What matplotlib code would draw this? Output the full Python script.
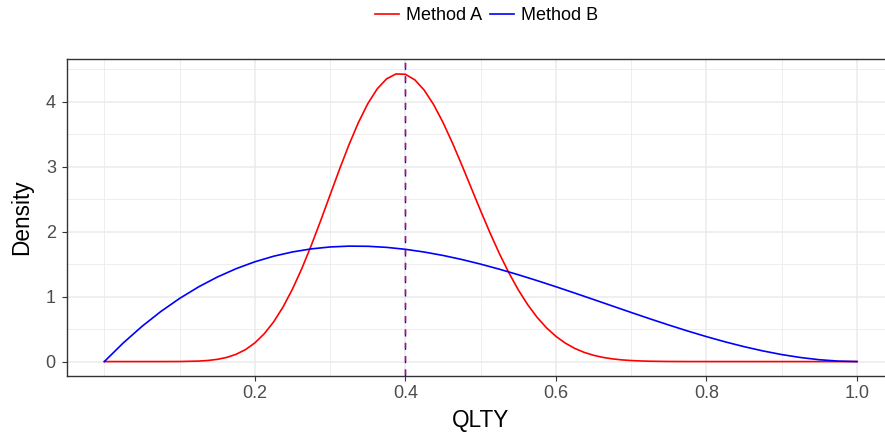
"""Density comparison of two methods for QLTY (ggplot theme_bw look)."""
import matplotlib
matplotlib.use("Agg")
import matplotlib.pyplot as plt

plt.rcParams["font.family"] = ["Liberation Sans", "DejaVu Sans"]

# values
method_a_x = [0.0, 0.025, 0.05, 0.075, 0.1, 0.125, 0.1375, 0.15, 0.1625,
              0.175, 0.1875, 0.2, 0.2125, 0.225, 0.2375, 0.25, 0.2625, 0.275,
              0.2875, 0.3, 0.3125, 0.325, 0.3375, 0.35, 0.3625, 0.375, 0.3875,
              0.4, 0.4125, 0.425, 0.4375, 0.45, 0.4625, 0.475, 0.4875, 0.5,
              0.5125, 0.525, 0.5375, 0.55, 0.5625, 0.575, 0.5875, 0.6, 0.6125,
              0.625, 0.6375, 0.65, 0.6625, 0.675, 0.6875, 0.7, 0.7125, 0.725,
              0.75, 0.775, 0.8, 0.85, 0.9, 0.95, 1.0]
method_a_y = [0.0, 0.0, 0.0, 0.0001, 0.001, 0.0075, 0.0167, 0.034, 0.0637,
              0.1115, 0.1838, 0.2872, 0.4281, 0.6117, 0.8408, 1.1162, 1.4344,
              1.7896, 2.1711, 2.5663, 2.9601, 3.3357, 3.6770, 3.9685, 4.1963,
              4.3514, 4.4270, 4.4216, 4.3363, 4.1778, 3.9551, 3.6802, 3.3650,
              3.0247, 2.6719, 2.3201, 1.9793, 1.6591, 1.3658, 1.1040, 0.8756,
              0.6812, 0.5195, 0.3882, 0.2839, 0.2030, 0.1419, 0.0967, 0.0643,
              0.0416, 0.0261, 0.0159, 0.0094, 0.0053, 0.0015, 0.0004, 0.0001,
              0.0, 0.0, 0.0, 0.0]

method_b_x = [0.0, 0.025, 0.05, 0.075, 0.1, 0.125, 0.15, 0.175, 0.2, 0.225,
              0.25, 0.275, 0.3, 0.325, 0.35, 0.375, 0.4, 0.425, 0.45, 0.475,
              0.5, 0.525, 0.55, 0.575, 0.6, 0.625, 0.65, 0.675, 0.7, 0.725,
              0.75, 0.775, 0.8, 0.825, 0.85, 0.875, 0.9, 0.925, 0.95, 0.975,
              1.0]
method_b_y = [0.0, 0.2852, 0.5415, 0.7701, 0.972, 1.1484, 1.3005, 1.4293,
              1.536, 1.6217, 1.6875, 1.7346, 1.764, 1.7769, 1.7745, 1.7578,
              1.728, 1.6862, 1.6335, 1.5711, 1.5, 1.4214, 1.3365, 1.2463,
              1.152, 1.0547, 0.9555, 0.8556, 0.756, 0.6579, 0.5625, 0.4708,
              0.384, 0.3032, 0.2295, 0.1641, 0.108, 0.0624, 0.0285, 0.0073,
              0.0]

series_labels = ["Method A", "Method B"]
series_colors = ["#FF0000", "#0000FF"]
ref_x = 0.4

x_major = [0.2, 0.4, 0.6, 0.8, 1.0]
x_minor = [0.0, 0.1, 0.3, 0.5, 0.7, 0.9]
y_major = [0, 1, 2, 3, 4]
y_minor = [0.5, 1.5, 2.5, 3.5, 4.5]

W, H = 885, 434
fig = plt.figure(figsize=(W / 100, H / 100), dpi=100)
fig.patch.set_facecolor("white")
# panel runs a little past the right edge of the image, like the reference
ax = fig.add_axes([66.7 / W, (H - 376) / H, (894.6 - 66.7) / W, 317 / H])

line_a, = ax.plot(method_a_x, method_a_y, color=series_colors[0], lw=1.2,
                  zorder=3, solid_joinstyle="round")
line_b, = ax.plot(method_b_x, method_b_y, color=series_colors[1], lw=1.2,
                  zorder=4, solid_joinstyle="round")

# both reference lines sit on the same x; blue underneath, red on top
ax.axvline(ref_x, color=series_colors[1], lw=1.0, ls=(0, (5.0, 4.6)), zorder=5)
ax.axvline(ref_x, color=series_colors[0], lw=1.0, ls=(8.2, (3.6, 6.0)), zorder=6)

ax.set_xlim(-0.05, 1.05)
ax.set_ylim(-0.222, 4.657)
ax.set_xticks(x_major)
ax.set_xticklabels([f"{v:.1f}" for v in x_major])
ax.set_xticks(x_minor, minor=True)
ax.set_yticks(y_major)
ax.set_yticks(y_minor, minor=True)

ax.set_axisbelow(True)
ax.grid(which="major", color="#EBEBEB", lw=1.1)
ax.grid(which="minor", color="#EBEBEB", lw=0.6)
ax.tick_params(which="major", length=3.8, width=0.8, color="#333333",
               labelcolor="#4D4D4D", labelsize=13)
ax.tick_params(axis="x", which="major", pad=2.5)
ax.tick_params(axis="y", which="major", pad=4)
ax.tick_params(which="minor", length=0)
for sp in ax.spines.values():
    sp.set_color("#333333")
    sp.set_linewidth(1.0)

ax.set_xlabel("QLTY", fontsize=16.3, labelpad=5)
ax.set_ylabel("Density", fontsize=16.3, labelpad=9)

fig.legend([line_a, line_b], series_labels, loc="center",
           bbox_to_anchor=(486.5 / W, 1 - 15.5 / H), ncol=2, frameon=False,
           fontsize=13, handlelength=1.3, handletextpad=0.4,
           columnspacing=0.45, borderpad=0)

fig.savefig("out.png", dpi=100)
